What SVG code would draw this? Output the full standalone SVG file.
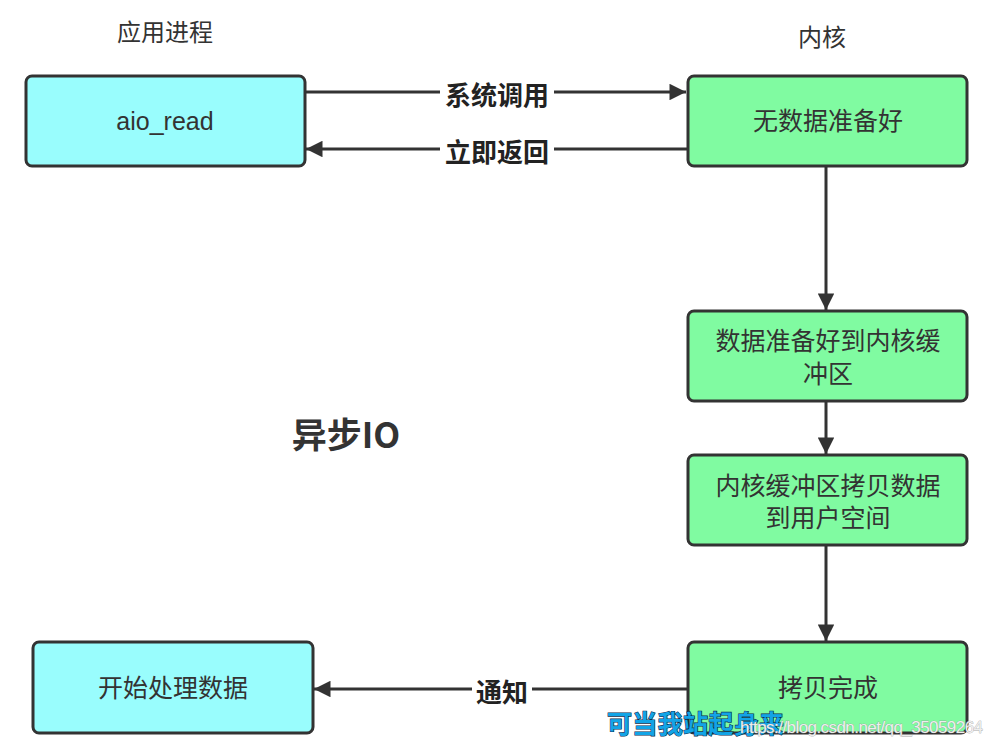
<svg xmlns="http://www.w3.org/2000/svg" width="993" height="747" viewBox="0 0 993 747">
<style>
.node rect{stroke:#333;stroke-width:3}
.cyan{fill:#99fdfd}
.green{fill:#80fba1}
.nt{font-family:"Liberation Sans","Noto Sans CJK SC",sans-serif;font-size:25px;fill:#333;text-anchor:middle;dominant-baseline:central}
.title{font-family:"Noto Sans CJK SC",sans-serif;font-size:24px;fill:#333;text-anchor:middle;dominant-baseline:central}
.lbl{font-family:"Noto Sans CJK SC",sans-serif;font-size:26px;font-weight:bold;fill:#222;text-anchor:middle;dominant-baseline:central}
.edge{stroke:#333;stroke-width:3;fill:none}
</style>
<defs>
<marker id="arr" viewBox="0 0 10 10" refX="10" refY="5" markerWidth="6.5" markerHeight="5.5" markerUnits="strokeWidth" orient="auto">
<path d="M0,0 L10,5 L0,10 z" fill="#333"/>
</marker>
</defs>
<rect width="993" height="747" fill="#fff"/>
<text class="title" x="165" y="30">应用进程</text>
<text class="title" x="822" y="35">内核</text>
<text x="346" y="432" font-family="'Noto Sans CJK SC',sans-serif" font-size="35" font-weight="bold" fill="#333" text-anchor="middle" dominant-baseline="central">异步IO</text>

<g id="connectors">
<g id="e1"><path class="edge" d="M305,92 H686" marker-end="url(#arr)"/><rect x="440" y="78" width="114" height="30" fill="#fff"/><text class="lbl" x="497" y="93">系统调用</text></g>
<g id="e2"><path class="edge" d="M688,149 H306" marker-end="url(#arr)"/><rect x="440" y="135" width="114" height="30" fill="#fff"/><text class="lbl" x="497" y="150">立即返回</text></g>
<g id="e3"><path class="edge" d="M826,167 V310" marker-end="url(#arr)"/></g>
<g id="e4"><path class="edge" d="M826,401 V454" marker-end="url(#arr)"/></g>
<g id="e5"><path class="edge" d="M826,546 V641" marker-end="url(#arr)"/></g>
<g id="e6"><path class="edge" d="M688,689 H314" marker-end="url(#arr)"/><rect x="472" y="675" width="60" height="30" fill="#fff"/><text class="lbl" x="502" y="690">通知</text></g>
</g>

<g id="n-aio" class="node"><rect class="cyan" x="26" y="76" width="279" height="90" rx="6"/><text class="nt" x="165" y="121">aio_read</text></g>
<g id="n-nodata" class="node"><rect class="green" x="688" y="76" width="279" height="90" rx="6"/><text class="nt" x="828" y="121">无数据准备好</text></g>
<g id="n-ready" class="node"><rect class="green" x="688" y="311" width="279" height="90" rx="6"/><text class="nt" x="828" y="341">数据准备好到内核缓</text><text class="nt" x="828" y="374">冲区</text></g>
<g id="n-copy" class="node"><rect class="green" x="688" y="455" width="279" height="90" rx="6"/><text class="nt" x="828" y="486">内核缓冲区拷贝数据</text><text class="nt" x="828" y="518">到用户空间</text></g>
<g id="n-done" class="node"><rect class="green" x="688" y="642" width="279" height="91" rx="6"/><text class="nt" x="828" y="688">拷贝完成</text></g>
<g id="n-start" class="node"><rect class="cyan" x="33" y="642" width="280" height="91" rx="6"/><text class="nt" x="173" y="688">开始处理数据</text></g>

<text x="607" y="733" font-family="'Noto Sans CJK SC',sans-serif" font-size="25" font-weight="bold" fill="#12a4e6" stroke="#0a2c4a" stroke-width="1.2" paint-order="stroke" textLength="177">可当我站起身来</text>
<text x="740" y="733" font-family="'Liberation Sans',sans-serif" font-size="17" fill="#eeeeee" stroke="#8a8a8a" stroke-width="0.5" paint-order="stroke" textLength="243">https://blog.csdn.net/qq_35059264</text>
</svg>
